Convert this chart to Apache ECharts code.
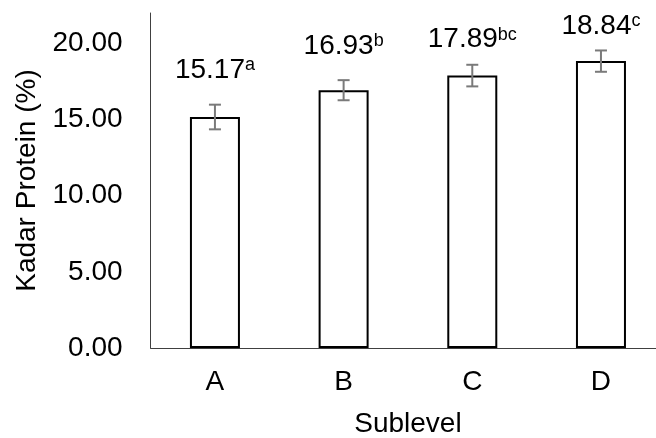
<!DOCTYPE html>
<html>
<head>
<meta charset="utf-8">
<script src="https://cdn.jsdelivr.net/npm/echarts@6/dist/echarts.min.js"></script>
<style>
html,body{margin:0;padding:0;background:#fff;}
#chart{width:656px;height:438px;}
</style>
</head>
<body>
<div id="chart"></div>
<script>
var categories = ['A', 'B', 'C', 'D'];
var values = [15.17, 16.93, 17.89, 18.84];
var errors = [0.81, 0.66, 0.71, 0.70];
var letters = ['a', 'b', 'bc', 'c'];
var yTicks = [0, 5, 10, 15, 20];
var labelDistances = [33, 30, 22, 21];

var FONT = 'Liberation Sans, Arial, sans-serif';
var chart = echarts.init(document.getElementById('chart'), null, {renderer: 'canvas'});

var barData = values.map(function (v, i) {
  return {
    value: v,
    label: {distance: labelDistances[i]}
  };
});

var errData = values.map(function (v, i) { return [i, v, errors[i]]; });

chart.setOption({
  animation: false,
  backgroundColor: '#fff',
  grid: {left: 150.6, right: -9.3, top: 13, bottom: 90, containLabel: false, outerBoundsMode: 'none'},
  xAxis: {
    type: 'category',
    data: categories,
    name: 'Sublevel',
    nameLocation: 'middle',
    nameGap: 62,
    nameTextStyle: {fontFamily: FONT, fontSize: 28, color: '#000'},
    axisLine: {lineStyle: {color: '#404040', width: 1}},
    axisTick: {show: false},
    axisLabel: {fontFamily: FONT, fontSize: 28, color: '#000', margin: 20}
  },
  yAxis: {
    type: 'value',
    min: 0,
    max: 22,
    interval: 5,
    name: 'Kadar Protein (%)',
    nameLocation: 'middle',
    nameGap: 109,
    nameTextStyle: {fontFamily: FONT, fontSize: 28, color: '#000'},
    axisLine: {show: true, lineStyle: {color: '#404040', width: 1}},
    axisTick: {show: false},
    splitLine: {show: false},
    axisLabel: {
      fontFamily: FONT, fontSize: 28, color: '#000', margin: 28,
      showMaxLabel: false,
      formatter: function (v) { return yTicks.indexOf(v) >= 0 ? v.toFixed(2) : ''; }
    }
  },
  series: [
    {
      type: 'bar',
      data: barData,
      barWidth: 50,
      itemStyle: {color: '#fff', borderColor: '#000', borderWidth: 2},
      label: {
        show: true,
        position: 'top',
        formatter: function (p) {
          return '{v|' + values[p.dataIndex].toFixed(2) + '}{s|' + letters[p.dataIndex] + '}';
        },
        rich: {
          v: {fontFamily: FONT, fontSize: 28, color: '#000'},
          s: {fontFamily: FONT, fontSize: 18, color: '#000', verticalAlign: 'top'}
        }
      },
      z: 2
    },
    {
      type: 'custom',
      data: errData,
      z: 3,
      renderItem: function (params, api) {
        var i = api.value(0), v = api.value(1), e = api.value(2);
        var hi = api.coord([i, v + e]);
        var lo = api.coord([i, v - e]);
        var w = 6;
        var style = {stroke: '#7a7a7a', lineWidth: 2};
        return {
          type: 'group',
          children: [
            {type: 'line', shape: {x1: hi[0], y1: hi[1], x2: lo[0], y2: lo[1]}, style: style},
            {type: 'line', shape: {x1: hi[0] - w, y1: hi[1], x2: hi[0] + w, y2: hi[1]}, style: style},
            {type: 'line', shape: {x1: lo[0] - w, y1: lo[1], x2: lo[0] + w, y2: lo[1]}, style: style}
          ]
        };
      }
    }
  ]
});
</script>
</body>
</html>
